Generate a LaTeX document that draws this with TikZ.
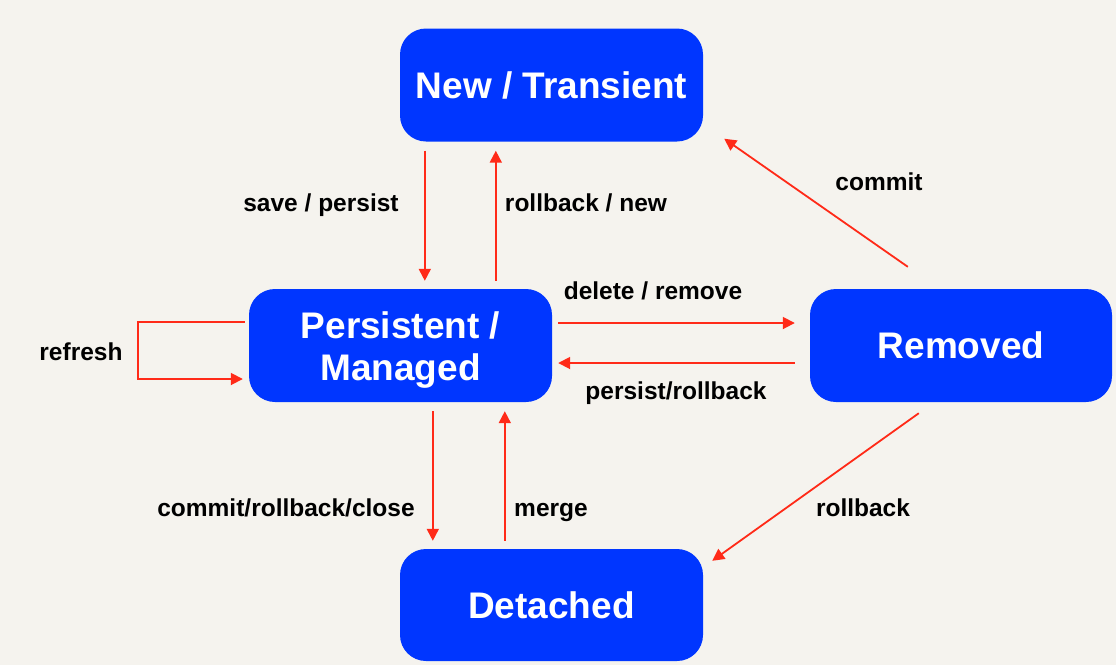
\documentclass[tikz,border=0pt]{standalone}
\usepackage{fontspec}
\setmainfont{Liberation Sans}
\usetikzlibrary{arrows.meta,calc}
\definecolor{bgc}{RGB}{245,243,238}
\definecolor{boxblue}{RGB}{0,54,255}
\definecolor{arrred}{RGB}{255,42,24}
\tikzset{
  state/.style={fill=boxblue, rounded corners=26pt, minimum width=303pt, minimum height=113pt,
    text=white, font=\fontsize{37}{42}\selectfont\bfseries, align=center, inner sep=0pt},
  arr/.style={draw=arrred, line width=1.8pt, -{Triangle[length=12pt,width=12pt]}},
  lbl/.style={font=\fontsize{24.5}{28}\selectfont\bfseries, text=black, inner sep=0pt}
}
\begin{document}
\begin{tikzpicture}[x=1pt,y=-1pt]
\fill[bgc] (0,0) rectangle (1116,665);
\useasboundingbox (0,0) rectangle (1116,665);

\node[state] (new) at (551.5,85) {New / Transient};
\node[state] (pers) at (400.5,345.5) {\rule{0pt}{35pt}Persistent /\\[0pt]Managed};
\node[state, minimum width=302pt] (rem) at (961,345.5) {Removed};
\node[state, minimum height=112pt] (det) at (551.5,605) {Detached};

% New <-> Persistent
\draw[arr] ($(new.south west)+(25,9)$) -- ($(pers.north west)+(176,-8)$);
\draw[arr] ($(pers.north west)+(247,-8)$) -- ($(new.south west)+(96,9)$);
% Persistent <-> Removed
\draw[arr] ($(pers.east)+(6,-22.5)$) -- ($(rem.west)+(-15,-22.5)$);
\draw[arr] ($(rem.west)+(-15,17.5)$) -- ($(pers.east)+(6,17.5)$);
% refresh loop
\draw[arr] ($(pers.west)+(-4,-23.5)$) -- ++(-107,0) -- ++(0,57) -- ($(pers.west)+(-6,33.5)$);
% Persistent <-> Detached
\draw[arr] ($(pers.south west)+(184,9)$) -- ($(det.north west)+(33,-8)$);
\draw[arr] ($(det.north west)+(105,-8)$) -- ($(pers.south west)+(256,9)$);
% Removed -> New, Removed -> Detached
\draw[arr] ($(rem.north west)+(98,-22)$) -- ($(new.south east)+(21,-3)$);
\draw[arr] ($(rem.south west)+(109,11)$) -- ($(det.north east)+(9,12)$);

% labels
\node[lbl] (l1) at (321,205) {save / persist};
\node[lbl] (l2) at (586,203) {rollback / new};
\node[lbl] (l3) at (653,291) {delete / remove};
\node[lbl] (l4) at (676,393) {persist/rollback};
\node[lbl] (l5) at (81,352) {refresh};
\node[lbl] (l6) at (286,508) {commit/rollback/close};
\node[lbl] (l7) at (551,512) {merge};
\node[lbl] (l8) at (863,508) {rollback};
\node[lbl] (l9) at (879,182) {commit};
\end{tikzpicture}
\end{document}
